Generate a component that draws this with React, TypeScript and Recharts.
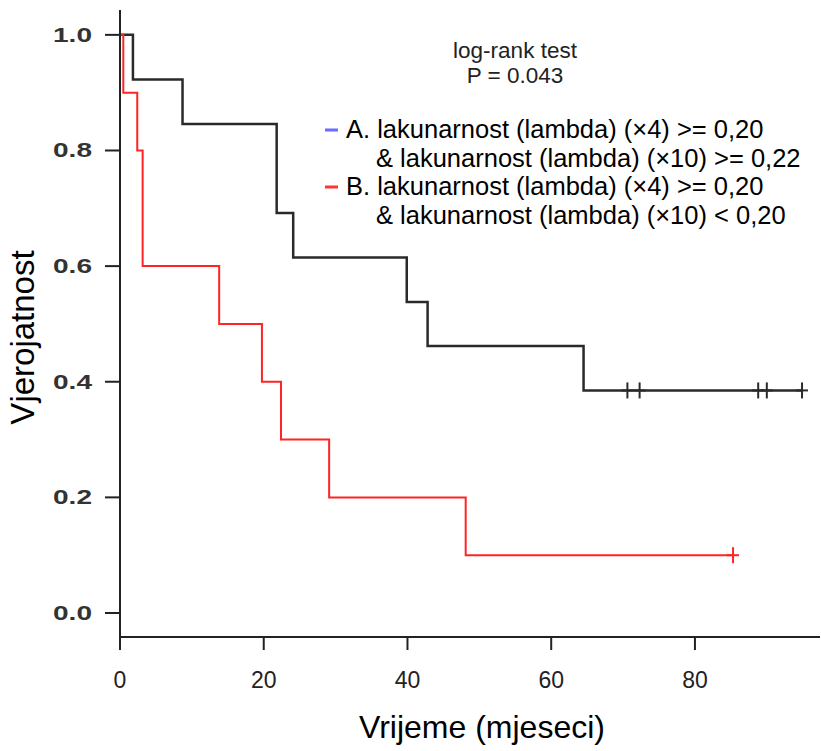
import React from "react";
import { LineChart, Line, XAxis, YAxis, Legend, Label } from "recharts";

// Kaplan-Meier curves (time in months, survival probability)
const groupATimes = [0, 1.8, 8.7, 21.8, 24.1, 39.9, 42.8, 64.5, 70.6, 72.3, 88.8, 90.0, 94.9];
const groupASurv = [1, 0.923, 0.846, 0.692, 0.615, 0.538, 0.462, 0.385, 0.385, 0.385, 0.385, 0.385, 0.385];
const groupACensored = [false, false, false, false, false, false, false, false, true, true, true, true, true];

const groupBTimes = [0, 0.46, 2.4, 3.15, 13.8, 19.75, 22.4, 29.1, 48.1, 85.3];
const groupBSurv = [1, 0.9, 0.8, 0.6, 0.5, 0.4, 0.3, 0.2, 0.1, 0.1];
const groupBCensored = [false, false, false, false, false, false, false, false, false, true];

const xTicks = [0, 20, 40, 60, 80];
const yTicks = [0, 0.2, 0.4, 0.6, 0.8, 1.0];

const testLines = ["log-rank test", "P = 0.043"];
const legendLabels = [
  ["A. lakunarnost (lambda) (\u00d74) >= 0,20", "& lakunarnost (lambda) (\u00d710) >= 0,22"],
  ["B. lakunarnost (lambda) (\u00d74) >= 0,20", "& lakunarnost (lambda) (\u00d710) < 0,20"],
];
const legendColors = ["#6b6bff", "#ff3535"];

const FONT = "Liberation Sans, Arial, Helvetica, sans-serif";
const BLACK = "#2a2a2a";
const RED = "#ff2424";

const toRows = (times: number[], surv: number[], cens: boolean[]) =>
  times.map((t, i) => ({ t, s: surv[i], c: cens[i] }));

const dataA = toRows(groupATimes, groupASurv, groupACensored);
const dataB = toRows(groupBTimes, groupBSurv, groupBCensored);

const censorDot = (color: string) => (props: any) => {
  const { cx, cy, payload, index } = props;
  if (!payload || !payload.c) return <g key={`n${index}`} />;
  return (
    <g key={`c${index}`}>
      <line x1={cx} y1={cy - 8} x2={cx} y2={cy + 8} stroke={color} strokeWidth={2} />
      <line x1={cx - 6} y1={cy} x2={cx + 6} y2={cy} stroke={color} strokeWidth={2} />
    </g>
  );
};

const XTick = (props: any) => {
  const { x, y, payload } = props;
  return (
    <text x={x} y={y + 36} textAnchor="middle" fontSize={23} style={{ fontFamily: FONT }} fill="#222">
      {payload.value}
    </text>
  );
};

const YTick = (props: any) => {
  const { x, y, payload } = props;
  return (
    <text
      x={x - 50}
      y={y + 7}
      textLength={39}
      lengthAdjust="spacingAndGlyphs"
      fontSize={20}
      fontWeight="bold"
      style={{ fontFamily: FONT }}
      fill="#333"
    >
      {payload.value.toFixed(1)}
    </text>
  );
};

const YTitle = (props: any) => {
  const vb = props.viewBox;
  const cx = vb.x + 34;
  const cy = vb.y + vb.height / 2 + 14;
  return (
    <text
      x={cx}
      y={cy}
      transform={`rotate(-90 ${cx} ${cy})`}
      textAnchor="middle"
      fontSize={33}
      style={{ fontFamily: FONT }}
      fill="#000"
    >
      Vjerojatnost
    </text>
  );
};

const XTitle = (props: any) => {
  const vb = props.viewBox;
  return (
    <text
      x={vb.x + vb.width / 2 + 12}
      y={vb.y + 101}
      textAnchor="middle"
      fontSize={32}
      style={{ fontFamily: FONT }}
      fill="#000"
    >
      Vrijeme (mjeseci)
    </text>
  );
};

const LegendBox = () => (
  <svg width={821} height={260} style={{ display: "block", fontFamily: FONT }}>
    {testLines.map((s, i) => (
      <text key={s} x={515} y={58 + i * 25} textAnchor="middle" fontSize={22.5} fill="#222">
        {s}
      </text>
    ))}
    {legendLabels.map((lines, g) => (
      <g key={g}>
        <line x1={325} x2={338} y1={130 + g * 57} y2={130 + g * 57} stroke={legendColors[g]} strokeWidth={3} />
        <text x={346} y={138 + g * 57} fontSize={25.5} fill="#000">
          {lines[0]}
        </text>
        <text x={376} y={167 + g * 57} fontSize={25.5} fill="#000">
          {lines[1]}
        </text>
      </g>
    ))}
  </svg>
);

export default function App() {
  return (
    <div style={{ position: "absolute", left: 0, top: 0, width: 821, height: 751, background: "#fff" }}>
      <LineChart width={821} height={751} margin={{ top: 10, right: 1, bottom: 0, left: 0 }}>
        <XAxis
          type="number"
          dataKey="t"
          domain={[0, 97.4]}
          ticks={xTicks}
          allowDataOverflow
          height={114}
          tickSize={13}
          tick={<XTick />}
          axisLine={{ stroke: "#222", strokeWidth: 2 }}
          tickLine={{ stroke: "#222", strokeWidth: 2 }}
        >
          <Label content={XTitle} />
        </XAxis>
        <YAxis
          type="number"
          domain={[-0.0415, 1.043]}
          ticks={yTicks}
          allowDataOverflow
          width={120}
          tickSize={15}
          tick={<YTick />}
          axisLine={{ stroke: "#222", strokeWidth: 2 }}
          tickLine={{ stroke: "#222", strokeWidth: 2 }}
        >
          <Label content={YTitle} />
        </YAxis>
        <Legend
          layout="horizontal"
          verticalAlign="middle"
          align="center"
          content={<LegendBox />}
          wrapperStyle={{ position: "absolute", left: 0, top: 0, width: 821, height: 260, pointerEvents: "none" }}
        />
        <Line
          data={dataA}
          dataKey="s"
          type="stepAfter"
          stroke={BLACK}
          strokeWidth={2.5}
          dot={censorDot(BLACK)}
          activeDot={false}
          isAnimationActive={false}
          legendType="none"
        />
        <Line
          data={dataB}
          dataKey="s"
          type="stepAfter"
          stroke={RED}
          strokeWidth={2}
          dot={censorDot(RED)}
          activeDot={false}
          isAnimationActive={false}
          legendType="none"
        />
      </LineChart>
    </div>
  );
}
